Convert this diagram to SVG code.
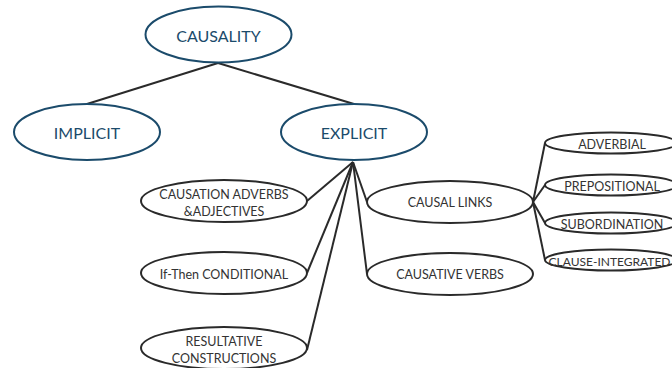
<svg xmlns="http://www.w3.org/2000/svg" width="672" height="368" viewBox="0 0 672 368">
<style>
.top ellipse{fill:#fff;stroke:#1b4b6b;stroke-width:2}
.top text{font-family:Lato,"Open Sans",sans-serif;font-size:16px;fill:#1b4b6b;text-anchor:middle;dominant-baseline:central}
.sub ellipse{fill:#fff;stroke:#2a2a2a;stroke-width:2}
.sub text{font-family:Lato,"Open Sans",sans-serif;font-size:12.5px;fill:#333;text-anchor:middle;dominant-baseline:central}
.conn line{stroke:#2a2a2a;stroke-width:2}
</style>
<rect width="672" height="368" fill="#fff"/>
<g class="conn" id="connectors">
<line x1="218" y1="63" x2="87" y2="104"/>
<line x1="218" y1="63" x2="354" y2="104"/>
<line x1="353" y1="162" x2="307" y2="201"/>
<line x1="353" y1="162" x2="307" y2="273"/>
<line x1="353" y1="162" x2="307" y2="350"/>
<line x1="353" y1="162" x2="367" y2="202"/>
<line x1="353" y1="162" x2="367" y2="274"/>
<line x1="533" y1="202" x2="545" y2="143"/>
<line x1="533" y1="202" x2="545" y2="185"/>
<line x1="533" y1="202" x2="545" y2="223"/>
<line x1="533" y1="202" x2="545" y2="260"/>
</g>
<g class="top" id="causality"><ellipse cx="218.5" cy="34.5" rx="73" ry="28"/><text x="218.5" y="35">CAUSALITY</text></g>
<g class="top" id="implicit"><ellipse cx="87" cy="132" rx="73" ry="28"/><text x="87" y="132">IMPLICIT</text></g>
<g class="top" id="explicit"><ellipse cx="354" cy="132" rx="73" ry="28"/><text x="354" y="132">EXPLICIT</text></g>
<g class="sub" id="adverbs"><ellipse cx="224" cy="201" rx="83" ry="21"/><text x="224" y="194">CAUSATION ADVERBS</text><text x="224" y="211">&amp;ADJECTIVES</text></g>
<g class="sub" id="ifthen"><ellipse cx="224" cy="273" rx="83" ry="21"/><text x="224" y="274">If-Then CONDITIONAL</text></g>
<g class="sub" id="resultative"><ellipse cx="224" cy="348" rx="83" ry="21"/><text x="224" y="341">RESULTATIVE</text><text x="224" y="358">CONSTRUCTIONS</text></g>
<g class="sub" id="causallinks"><ellipse cx="450" cy="202" rx="83" ry="21"/><text x="450" y="202">CAUSAL LINKS</text></g>
<g class="sub" id="causativeverbs"><ellipse cx="450" cy="274" rx="83" ry="21"/><text x="450" y="274">CAUSATIVE VERBS</text></g>
<g class="sub" id="adverbial"><ellipse cx="611" cy="143" rx="66" ry="10.5"/><text x="612" y="144">ADVERBIAL</text></g>
<g class="sub" id="prepositional"><ellipse cx="611" cy="185" rx="66" ry="10.5"/><text x="612" y="186">PREPOSITIONAL</text></g>
<g class="sub" id="subordination"><ellipse cx="611" cy="223" rx="66" ry="10.5"/><text x="612" y="224">SUBORDINATION</text></g>
<g class="sub" id="clause"><ellipse cx="611" cy="260" rx="66" ry="10.5"/><text x="609.5" y="261" style="font-size:12px">CLAUSE-INTEGRATED</text></g>
</svg>
